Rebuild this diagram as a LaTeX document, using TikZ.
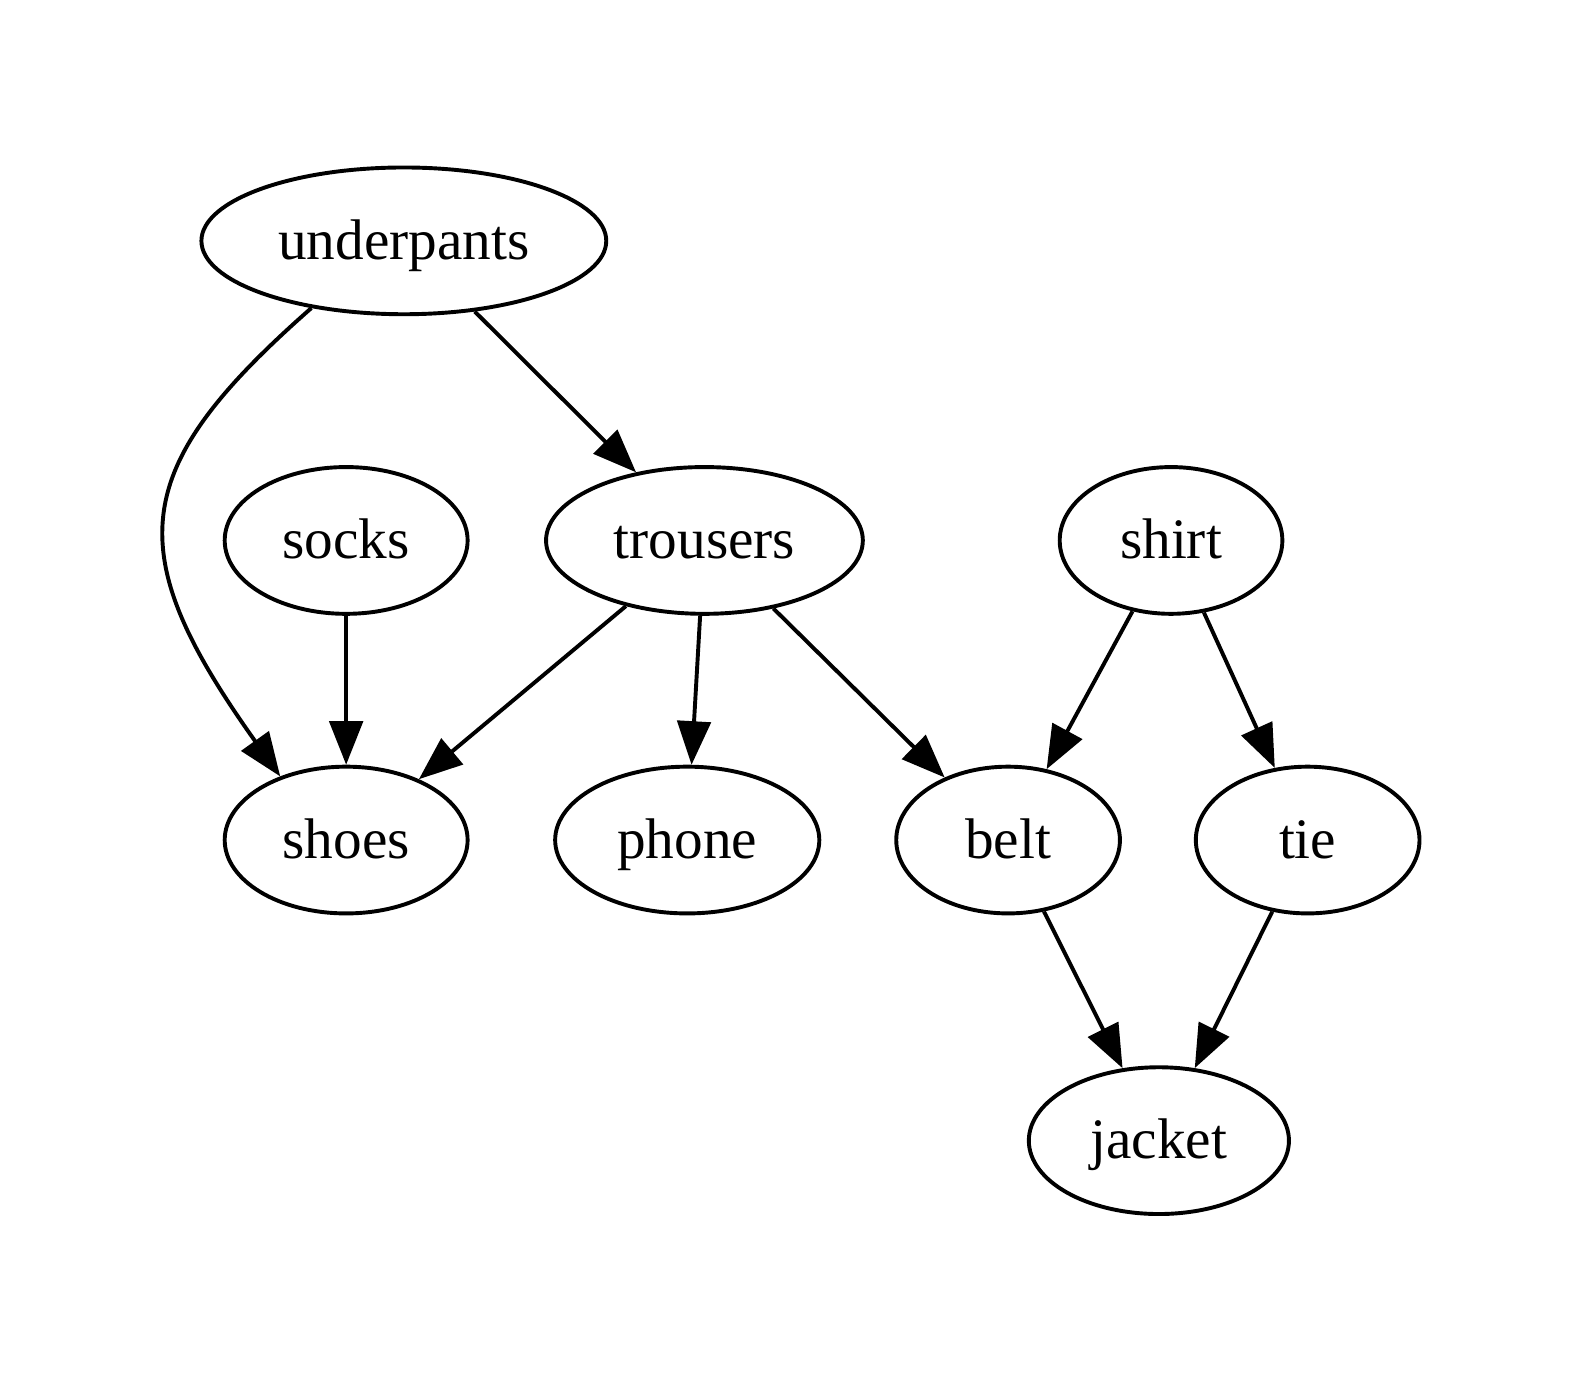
\documentclass[tikz,border=0pt]{standalone}
\usepackage{fontspec}
\setmainfont{Liberation Serif}
\usepackage{tikz}
\usetikzlibrary{arrows.meta,shapes.geometric}
\tikzstyle{vertex}=[ellipse,draw,line width=1.1pt,minimum height=1.45cm,inner sep=0pt,
  text height=0.46cm,text depth=0.1cm,font=\fontsize{16.1}{19}\selectfont]
\tikzstyle{arrow} = [draw,line width=1.1pt,-{Triangle[length=4.3mm,width=3.3mm]}]

\begin{document}
\begin{tikzpicture}
   \useasboundingbox (0,0) rectangle (15.68,13.66);
   \foreach \pos/\name/\width in {{(3.99,11.28)/underpants/4.0}, {(3.42,8.32)/socks/2.4},
        {(6.96,8.32)/trousers/3.13}, {(11.57,8.32)/shirt/2.2}, {(3.42,5.36)/shoes/2.4},
        {(6.79,5.36)/phone/2.61}, {(9.96,5.36)/belt/2.21}, {(12.92,5.36)/tie/2.21},
        {(11.45,2.39)/jacket/2.57}}
        \node[vertex,minimum width=\width cm] (\name) at \pos {\name};
    \path[arrow] (underpants.216) .. controls (1.26,9.02) and (1.18,8.22) .. (shoes.136);
    \foreach \source/\dest in {underpants/trousers, socks/shoes, trousers/shoes,
        trousers/phone, trousers/belt, shirt/belt, shirt/tie, belt/jacket, tie/jacket}
        \path[arrow] (\source) -- (\dest);
\end{tikzpicture}
\end{document}
